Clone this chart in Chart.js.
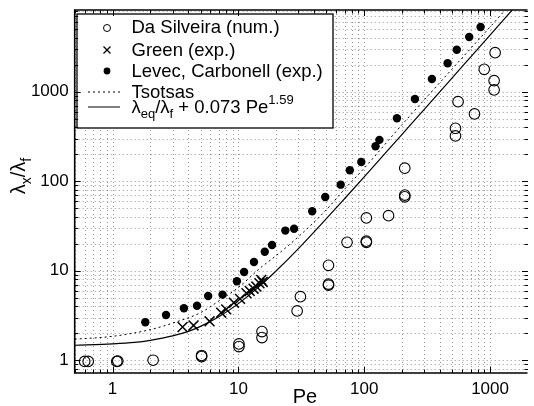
<!DOCTYPE html>
<html>
<head>
<meta charset="utf-8">
<script src="https://cdn.jsdelivr.net/npm/chart.js@4.4.1/dist/chart.umd.min.js"></script>
<style>
  html, body { margin: 0; padding: 0; background: #fff; overflow: hidden; }
  #caixa { width: 534px; height: 406px; }
</style>
</head>
<body>
<div id="caixa"><canvas id="grafico" width="534" height="406"></canvas></div>
<script>
// ==========================
// DADOS
// ==========================
const silveiraPe = [0.60, 0.64, 1.08, 1.10, 2.1, 5.1, 5.1, 10.1, 10.1, 15.4, 15.4, 29.3, 31.1, 52, 52, 52,
                    73, 104, 104, 104, 156, 210, 210, 210, 531, 531, 557, 752, 899, 1077, 1077, 1097];
const silveiraY  = [0.97, 0.97, 0.97, 0.98, 1.0, 1.10, 1.13, 1.42, 1.52, 1.79, 2.09, 3.56, 5.13, 6.9, 7.1, 11.5,
                    20.8, 20.8, 21.4, 38.9, 41.3, 67, 70, 140, 321, 391, 775, 565, 1780, 1050, 1330, 2735];

const greenPe = [3.6, 4.4, 5.9, 7.3, 8.0, 9.2, 10.3, 11.6, 12.3, 13.2, 13.9, 14.7, 15.2, 15.6];
const greenY  = [2.35, 2.45, 2.72, 3.4, 3.7, 4.4, 4.85, 5.6, 5.95, 6.3, 6.65, 7.25, 7.9, 7.5];

const levecPe = [1.82, 2.66, 3.69, 4.69, 5.75, 7.48, 9.73, 11.1, 13.3, 16.2, 18.5, 23.6, 27.7, 38.6,
                 49, 65, 76.8, 94.8, 123, 132, 182, 253, 345, 460, 544, 683, 841];
const levecY  = [2.66, 3.2, 3.81, 4.07, 5.23, 5.41, 7.63, 9.7, 12.5, 16.3, 19.4, 28.1, 29.5, 46.2,
                 66.8, 91.6, 133, 164, 246, 290, 506, 831, 1390, 2080, 2950, 4090, 5300];

const tsotsasPe = [0.5, 1, 2, 3, 5, 7, 10, 15, 20, 30, 50, 70, 100, 200, 500, 1000, 1300];
const tsotsasY  = [1.72, 1.85, 2.2, 2.6, 3.4, 4.6, 6.5, 10.8, 14.8, 24, 48, 82, 140, 430, 1800, 5300, 8000];

const ajustePe = [0.5, 1, 1.5, 2, 3, 4, 5, 7, 10, 15, 20, 30, 50, 70, 100, 200, 300, 500, 700, 1000, 1500];
const ajusteY  = [1.47, 1.52, 1.58, 1.67, 1.87, 2.1, 2.39, 3.06, 4.29, 6.86, 10.0, 17.7, 38.2, 64.2, 112,
                  335, 636, 1430, 2440, 4300, 8190];

const xTickValores = [1, 10, 100, 1000];
const xTickRotulos = ['1', '10', '100', '1000'];
const yTickValores = [1, 10, 100, 1000];
const yTickRotulos = ['1', '10', '100', '1000'];

const legendaRotulos = ['Da Silveira (num.)', 'Green (exp.)', 'Levec, Carbonell (exp.)', 'Tsotsas'];

const FONTE = "'Liberation Sans', Arial, Helvetica, sans-serif";

function pares(xs, ys) {
    return xs.map((v, i) => ({ x: v, y: ys[i] }));
}

// marcas 1..9 de cada década dentro do intervalo
function ticksLog(min, max) {
    const out = [];
    for (let e = -1; e <= 4; e++) {
        for (let m = 1; m <= 9; m++) {
            const v = m * Math.pow(10, e);
            if (v >= min * 0.9999 && v <= max * 1.0001) out.push({ value: v, major: m === 1 });
        }
    }
    return out;
}

function rotulo(valores, rotulos) {
    return function (value) {
        const i = valores.findIndex(t => Math.abs(t - value) / t < 1e-6);
        return i >= 0 ? rotulos[i] : '';
    };
}

// texto com subscrito / sobrescrito
function textoRico(ctx, partes, x, y, tam, medirSo) {
    let cx = x;
    partes.forEach(([t, tipo]) => {
        const s = tipo === 'n' ? tam : Math.round(tam * 0.72);
        const dy = tipo === 'sub' ? tam * 0.3 : tipo === 'sup' ? -tam * 0.48 : 0;
        ctx.font = `${s}px ${FONTE}`;
        if (!medirSo) ctx.fillText(t, cx, y + dy);
        cx += ctx.measureText(t).width;
    });
    return cx - x;
}

function linha(ctx, x1, y1, x2, y2) {
    ctx.beginPath();
    ctx.moveTo(x1, y1);
    ctx.lineTo(x2, y2);
    ctx.stroke();
}

// ==========================
// GRADE, MOLDURA, LEGENDA
// ==========================
const moldura = {
    id: 'moldura',
    beforeDatasetsDraw(chart) {
        const { ctx, chartArea: a, scales: { x, y } } = chart;
        ctx.save();
        ctx.strokeStyle = 'rgba(0,0,0,0.42)';
        ctx.lineWidth = 1;
        ctx.setLineDash([1, 3]);
        x.ticks.forEach(t => {
            const px = Math.round(x.getPixelForValue(t.value)) + 0.5;
            linha(ctx, px, a.top, px, a.bottom);
        });
        y.ticks.forEach(t => {
            const py = Math.round(y.getPixelForValue(t.value)) + 0.5;
            linha(ctx, a.left, py, a.right, py);
        });
        ctx.restore();
    },
    afterDatasetsDraw(chart) {
        const { ctx, chartArea: a, scales: { x, y } } = chart;
        ctx.save();

        // legenda
        const lx = 77, ly = 14, lw = 256, lh = 114;
        ctx.fillStyle = '#fff';
        ctx.fillRect(lx, ly, lw, lh);
        ctx.strokeStyle = '#000';
        ctx.lineWidth = 1.3;
        ctx.strokeRect(lx, ly, lw, lh);

        const bases = [33, 55.5, 76.5, 98, 112.5];
        const mx = 107, tx = 131.5;
        ctx.fillStyle = '#000';
        ctx.textBaseline = 'alphabetic';
        ctx.textAlign = 'left';
        legendaRotulos.forEach((t, i) => {
            ctx.font = `18.5px ${FONTE}`;
            ctx.fillText(t, tx, bases[i]);
        });
        textoRico(ctx, [['λ', 'n'], ['eq', 'sub'], ['/λ', 'n'], ['f', 'sub'], [' + 0.073 Pe', 'n'], ['1.59', 'sup']],
                  tx, bases[4], 18.5);

        ctx.lineWidth = 1;
        ctx.beginPath();
        ctx.arc(mx, bases[0] - 5, 3.5, 0, Math.PI * 2);
        ctx.stroke();
        ctx.lineWidth = 1.3;
        linha(ctx, mx - 3.5, bases[1] - 9, mx + 3.5, bases[1] - 2);
        linha(ctx, mx - 3.5, bases[1] - 2, mx + 3.5, bases[1] - 9);
        ctx.beginPath();
        ctx.arc(mx, bases[2] - 5.5, 3.4, 0, Math.PI * 2);
        ctx.fill();
        ctx.lineWidth = 1;
        ctx.setLineDash([2, 3]);
        linha(ctx, 88, bases[3] - 6, 120, bases[3] - 6);
        ctx.setLineDash([]);
        linha(ctx, 88, bases[4] - 5.5, 120, bases[4] - 5.5);

        // moldura dos eixos (lado direito fica fora da imagem)
        ctx.lineWidth = 1.6;
        ctx.beginPath();
        ctx.moveTo(a.right + 2, a.top);
        ctx.lineTo(a.left, a.top);
        ctx.lineTo(a.left, a.bottom);
        ctx.lineTo(a.right + 2, a.bottom);
        ctx.stroke();

        // marcas para dentro
        ctx.lineWidth = 1;
        const dir = a.right + 2.5;
        x.ticks.forEach(t => {
            const px = Math.round(x.getPixelForValue(t.value)) + 0.5;
            const n = t.major ? 6 : 3.5;
            linha(ctx, px, a.bottom, px, a.bottom - n);
            linha(ctx, px, a.top, px, a.top + n);
        });
        y.ticks.forEach(t => {
            const py = Math.round(y.getPixelForValue(t.value)) + 0.5;
            const n = t.major ? 6 : 3.5;
            linha(ctx, a.left, py, a.left + n, py);
            linha(ctx, dir, py, dir - n, py);
        });

        // títulos dos eixos
        ctx.font = `20px ${FONTE}`;
        ctx.textAlign = 'center';
        ctx.fillText('Pe', 305, 403);

        ctx.textAlign = 'left';
        const partesY = [['λ', 'n'], ['x', 'sub'], ['/λ', 'n'], ['f', 'sub']];
        const w = textoRico(ctx, partesY, 0, 0, 20, true);
        ctx.translate(25, 176);
        ctx.rotate(-Math.PI / 2);
        textoRico(ctx, partesY, -w / 2, 0, 20);

        ctx.restore();
    }
};

// ==========================
// GRÁFICO
// ==========================
const ctx = document.getElementById('grafico');

new Chart(ctx, {
    type: 'scatter',
    data: {
        datasets: [
            {
                label: 'Da Silveira (num.)',
                data: pares(silveiraPe, silveiraY),
                pointStyle: 'circle',
                pointRadius: 5.3,
                backgroundColor: 'rgba(0,0,0,0)',
                borderColor: '#000',
                borderWidth: 1.1
            },
            {
                label: 'Green (exp.)',
                data: pares(greenPe, greenY),
                pointStyle: 'crossRot',
                pointRadius: 7,
                borderColor: '#000',
                borderWidth: 1.5
            },
            {
                label: 'Levec, Carbonell (exp.)',
                data: pares(levecPe, levecY),
                pointStyle: 'circle',
                pointRadius: 4.2,
                backgroundColor: '#000',
                borderColor: '#000',
                borderWidth: 0
            },
            {
                label: 'Tsotsas',
                data: pares(tsotsasPe, tsotsasY),
                showLine: true,
                pointRadius: 0,
                borderColor: '#000',
                borderWidth: 1,
                borderDash: [2, 3],
                cubicInterpolationMode: 'monotone'
            },
            {
                label: 'ajuste',
                data: pares(ajustePe, ajusteY),
                showLine: true,
                pointRadius: 0,
                borderColor: '#000',
                borderWidth: 1.2,
                cubicInterpolationMode: 'monotone'
            }
        ]
    },
    options: {
        responsive: false,
        animation: false,
        devicePixelRatio: 1,
        layout: { padding: { top: 10, right: 0, left: 0, bottom: 0 } },
        plugins: {
            legend: { display: false },
            tooltip: { enabled: false }
        },
        scales: {
            x: {
                type: 'logarithmic',
                bounds: 'data',
                min: 0.5,
                max: 1913,
                afterBuildTicks: s => { s.ticks = ticksLog(s.min, s.max); },
                afterFit: s => { s.height = 33; s.paddingLeft = 0; s.paddingRight = 0; },
                grid: { display: false, drawTicks: false },
                border: { display: false },
                ticks: {
                    autoSkip: false,
                    maxRotation: 0,
                    padding: 6,
                    color: '#000',
                    font: { family: FONTE, size: 17 },
                    callback: rotulo(xTickValores, xTickRotulos)
                }
            },
            y: {
                type: 'logarithmic',
                bounds: 'data',
                min: 0.72,
                max: 8200,
                afterBuildTicks: s => { s.ticks = ticksLog(s.min, s.max); },
                afterFit: s => { s.width = 74.7; s.paddingTop = 0; s.paddingBottom = 0; },
                grid: { display: false, drawTicks: false },
                border: { display: false },
                ticks: {
                    autoSkip: false,
                    padding: 6,
                    color: '#000',
                    font: { family: FONTE, size: 17 },
                    callback: rotulo(yTickValores, yTickRotulos)
                }
            }
        }
    },
    plugins: [moldura]
});
</script>
</body>
</html>
